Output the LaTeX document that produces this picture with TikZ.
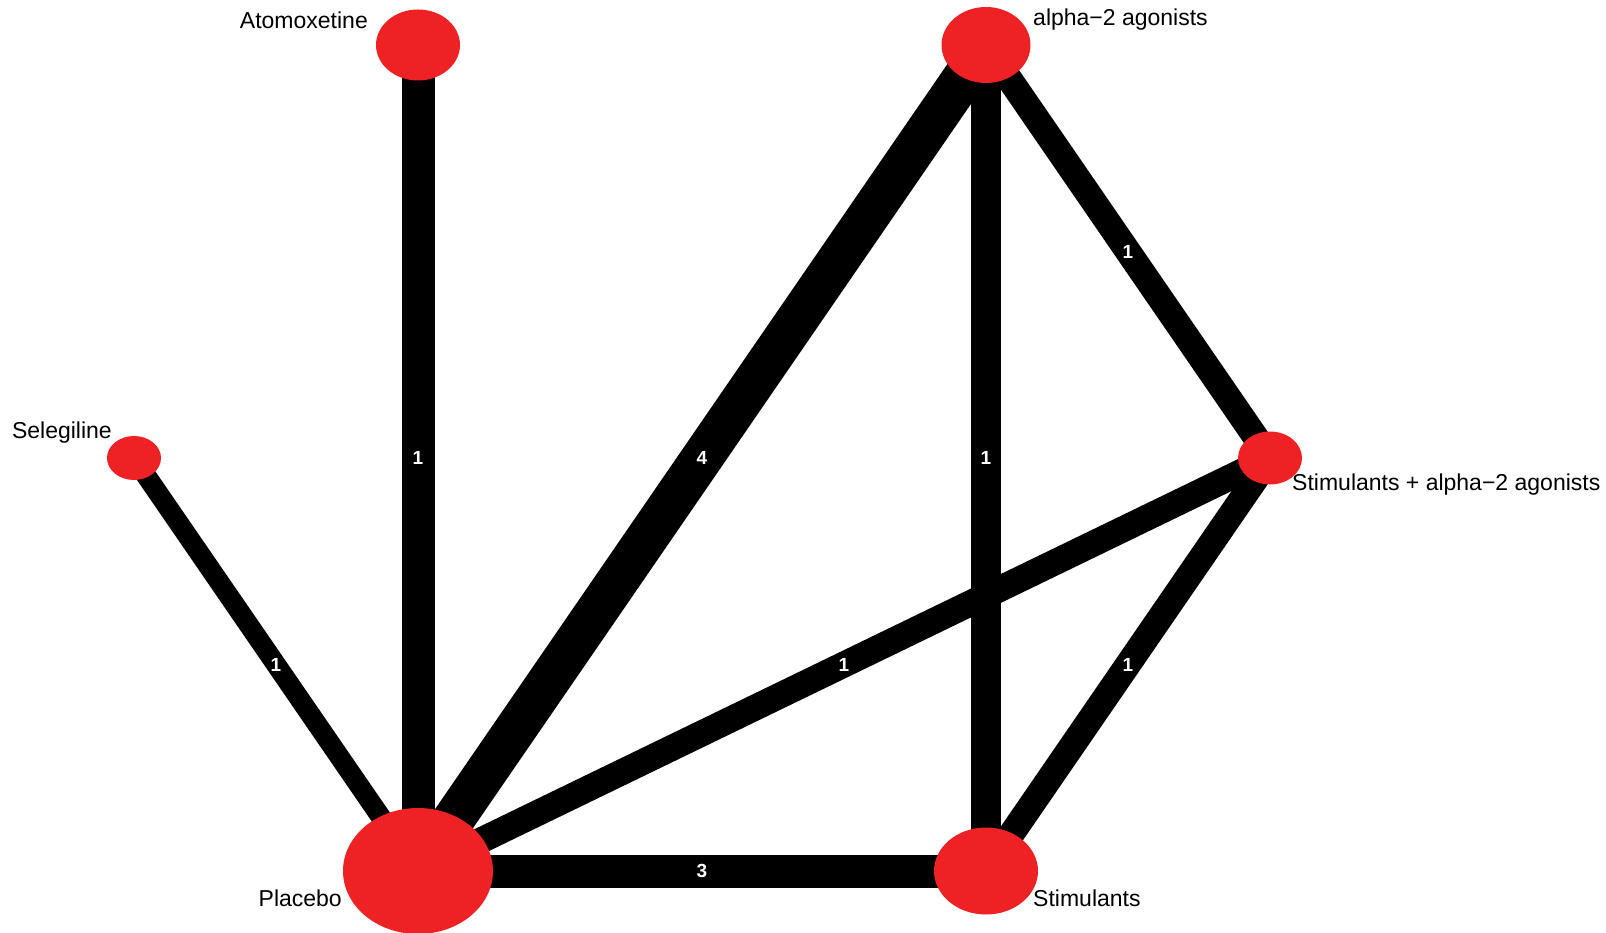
\documentclass[tikz,border=0pt]{standalone}
\usepackage{fontspec}
\setmainfont{Liberation Sans}
\usetikzlibrary{shapes.geometric,backgrounds}
\definecolor{netred}{RGB}{238,34,36}
\tikzset{
    trt/.style={ellipse, fill=netred, inner sep=0pt},
    lbl/.style={font=\fontsize{23}{27}\selectfont, inner sep=0pt},
    link/.style={draw=black},
    num/.style={text=white, font=\fontsize{19}{23}\selectfont\bfseries, inner sep=0pt}
}
\begin{document}
\begin{tikzpicture}[x=1pt,y=-1pt]
    \useasboundingbox (0,0) rectangle (1606,933);
    % treatments
    \node [trt, minimum width=84pt, minimum height=71pt] (atom) at (418,45) {};
    \node [trt, minimum width=89pt, minimum height=76pt] (alpha) at (986,45) {};
    \node [trt, minimum width=54pt, minimum height=44pt] (seleg) at (134,458) {};
    \node [trt, minimum width=64pt, minimum height=53pt] (combo) at (1270,458) {};
    \node [trt, minimum width=150pt, minimum height=126pt] (plac) at (418,871) {};
    \node [trt, minimum width=104pt, minimum height=87pt] (stim) at (986,871) {};
    % names
    \node [lbl, anchor=east] (atomlbl) at (368,20) {Atomoxetine};
    \node [lbl, anchor=west] (alphalbl) at (1033,20) {alpha−2 agonists};
    \node [lbl, anchor=east] (seleglbl) at (112,433) {Selegiline};
    \node [lbl, anchor=west] (combolbl) at (1292,485) {Stimulants + alpha−2 agonists};
    \node [lbl, anchor=east] (placlbl) at (342,898) {Placebo};
    \node [lbl, anchor=west] (stimlbl) at (1033,898) {Stimulants};
    % comparisons
    \begin{scope}[on background layer]
        \draw [link, line width=33pt] (atom.center) -- (plac.center) node [num, midway] {1};
        \draw [link, line width=42pt] (alpha.center) -- (plac.center) node [num, midway] {4};
        \draw [link, line width=33pt] (plac.center) -- (stim.center) node [num, midway] {3};
        \draw [link, line width=30pt] (alpha.center) -- (stim.center) node [num, midway] {1};
        \draw [link, line width=26pt] (alpha.center) -- (combo.center) node [num, midway] {1};
        \draw [link, line width=26pt] (combo.center) -- (stim.center) node [num, midway] {1};
        \draw [link, line width=26pt] (combo.center) -- (plac.center) node [num, midway] {1};
        \draw [link, line width=20pt] (seleg.center) -- (plac.center) node [num, midway] {1};
    \end{scope}
\end{tikzpicture}
\end{document}
